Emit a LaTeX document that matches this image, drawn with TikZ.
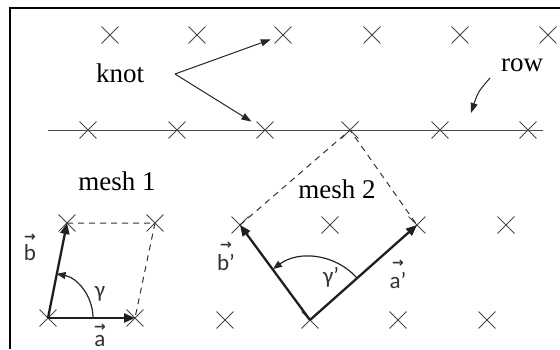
\documentclass[tikz,border=0pt]{standalone}
\usepackage{fontspec}
\setmainfont{Liberation Serif}
\newfontfamily\labfont{Carlito}
\newfontfamily\arrfont{DejaVu Sans}
\usetikzlibrary{arrows.meta,shapes.misc}
\newcommand\vlab[2][19pt]{\setbox0\hbox{#2}\rlap{\hbox to\wd0{\hss\raisebox{#1}{\arrfont\bfseries\fontsize{14}{14}\selectfont →}\hss}}\box0}
\begin{document}
\begin{tikzpicture}[x=1pt,y=1pt,
  xm/.style={cross out,draw=black!72,line width=0.9pt,minimum size=16pt,inner sep=0pt},
  vecline/.style={draw=black!88,line width=2.3pt,-{Triangle[length=11pt,width=9pt]}},
  arcline/.style={draw=black!85,line width=1.2pt,-{Triangle[length=9pt,width=7pt]}},
  karrow/.style={draw=black!85,line width=1pt,-{Triangle[length=10pt,width=7pt]}},
  dashline/.style={draw=black!80,line width=1pt,dash pattern=on 6pt off 5pt},
  serif/.style={font=\fontsize{27}{30}\selectfont,inner sep=0pt,anchor=base},
  lab/.style={font=\fontsize{23}{24}\selectfont\labfont,inner sep=0pt,anchor=base,text=black!80}]
\useasboundingbox (0,0) rectangle (560,349);
\fill[white] (0,0) rectangle (560,349);
% frame
\draw[line width=1.8pt] (10,0) -- (10,341) -- (560,341);
% row line
\coordinate (rowL) at (48,219);
\coordinate (rowR) at (543,219);
\draw[black!70,line width=1pt] (rowL) -- (rowR);
% top row of knots
\foreach \n/\x in {1/110,2/197,3/283,4/372,5/460,6/548} \node[xm] (t\n) at (\x,314) {};
% knots on row
\foreach \n/\x in {1/88,2/177,3/265,4/350,5/440,6/528} \node[xm] (r\n) at (\x,219) {};
% mesh 1 knots
\node[xm] (o1) at (48,31) {};
\node[xm] (a1) at (135,31) {};
\node[xm] (b1) at (67,126) {};
\node[xm] (c1) at (155,126) {};
% mesh 2 knots and others
\node[xm] (o2) at (310,29) {};
\node[xm] (a2) at (417,124) {};
\node[xm] (b2) at (240,124) {};
\node[xm] (m1) at (330,124) {};
\node[xm] (m2) at (506,124) {};
\node[xm] (l1) at (225,29) {};
\node[xm] (l2) at (398,29) {};
\node[xm] (l3) at (487,29) {};
% dashed mesh outlines
\draw[dashline] (b1.center) -- (c1.center) -- (a1.center);
\draw[dashline] (b2.center) -- (r4.center) -- (a2.center);
% vectors
\draw[vecline] (o1.center) -- (a1.center);
\draw[vecline] (o1.center) -- (b1.center);
\draw[vecline] (o2.center) -- (a2.center);
\draw[vecline] (o2.center) -- (b2.center);
% angle arcs
\draw[arcline] (93,31) arc[start angle=0,end angle=79,radius=45];
\draw[arcline] (356.8,71.2) arc[start angle=42,end angle=126,radius=63];
% labels
\node[serif] (knot) at (120,267) {knot};
\node[serif] (row) at (522,277) {row};
\node[serif] (mesh1) at (117,159) {mesh 1};
\node[serif] (mesh2) at (337,151) {mesh 2};
\node[lab] (ga) at (100,52) {γ};
\node[lab] (gb) at (331,66) {γ’};
\node[lab] (va) at (100,3) {\vlab[15pt]{a}};
\node[lab] (vb) at (30,89) {\vlab[19pt]{b}};
\node[lab] (vbp) at (226,79) {\vlab[21pt]{b’}};
\node[lab] (vap) at (398,61) {\vlab[21pt]{a’}};
% knot arrows
\coordinate (ks) at (175,275);
\draw[karrow,shorten >=4pt] (ks) -- (t3);
\draw[karrow,shorten >=6pt] (ks) -- (r3);
% row arrow
\coordinate (rs) at (490,271);
\coordinate (re) at (471,236);
\draw[karrow] (rs) .. controls (478,257) .. (re);
\end{tikzpicture}
\end{document}
